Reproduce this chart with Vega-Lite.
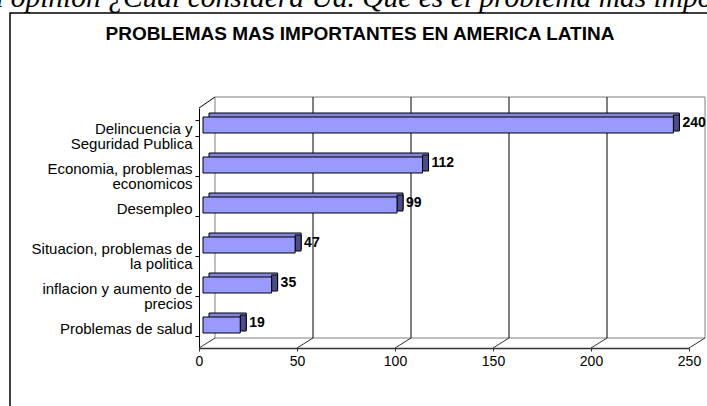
{
  "$schema": "https://vega.github.io/schema/vega-lite/v6.json",
  "width": 700,
  "height": 397,
  "autosize": {"type": "none"},
  "padding": {"left": 10, "top": 13, "right": 0, "bottom": 0},
  "background": "white",
  "config": {
    "view": {"stroke": "black", "strokeWidth": 1.5},
    "font": "Liberation Sans"
  },
  "title": {
    "text": "En su opinion ¿Cual considera Ud. Que es el problema mas importante",
    "subtitle": "PROBLEMAS MAS IMPORTANTES EN  AMERICA LATINA",
    "anchor": "middle",
    "frame": "group",
    "font": "Liberation Serif",
    "fontStyle": "italic",
    "fontWeight": "normal",
    "fontSize": 29.5,
    "color": "black",
    "subtitleFont": "Liberation Sans",
    "subtitleFontWeight": "bold",
    "subtitleFontSize": 19,
    "subtitleColor": "black",
    "subtitlePadding": 12,
    "offset": -39
  },
  "datasets": {
    "problemas": [
      {"problema": "Delincuencia y\nSeguridad Publica", "valor": 240},
      {"problema": "Economia, problemas\neconomicos", "valor": 112},
      {"problema": "Desempleo", "valor": 99},
      {"problema": "Situacion, problemas de\nla politica", "valor": 47},
      {"problema": "inflacion y aumento de\nprecios", "valor": 35},
      {"problema": "Problemas de salud", "valor": 19}
    ],
    "escala": [
      {"v": 0}, {"v": 50}, {"v": 100}, {"v": 150}, {"v": 200}, {"v": 250}
    ]
  },
  "resolve": {"scale": {"y": "independent"}},
  "layer": [
    {
      "data": {"name": "escala"},
      "layer": [
        {
          "transform": [{"filter": "datum.v == 0"}],
          "mark": {"type": "rect", "fill": "transparent", "stroke": "#808080", "strokeWidth": 1, "xOffset": 16, "x2Offset": 16},
          "encoding": {
            "x": {"datum": 0, "type": "quantitative", "title": null, "scale": {"domain": [0, 250], "range": [189, 679], "nice": false, "zero": false}},
            "x2": {"datum": 250},
            "y": {"datum": 0, "type": "quantitative", "title": null, "scale": {"domain": [0, 1], "range": [325, 84], "nice": false}, "axis": null},
            "y2": {"datum": 1}
          }
        },
        {
          "transform": [{"filter": "datum.v > 0 && datum.v < 250"}],
          "mark": {"type": "rule", "color": "black", "strokeWidth": 1, "xOffset": 16},
          "encoding": {
            "x": {"field": "v", "type": "quantitative", "title": null},
            "y": {"datum": 0, "type": "quantitative", "title": null, "axis": null},
            "y2": {"datum": 1}
          }
        },
        {
          "mark": {"type": "rule", "color": "#333333", "strokeWidth": 1, "x2Offset": 16, "yOffset": 10},
          "encoding": {
            "x": {"field": "v", "type": "quantitative", "title": null},
            "x2": {"field": "v"},
            "y": {"datum": 0, "type": "quantitative", "title": null, "axis": null},
            "y2": {"datum": 0}
          }
        },
        {
          "transform": [{"filter": "datum.v == 0"}],
          "mark": {"type": "rule", "color": "black", "strokeWidth": 1, "x2Offset": 16, "yOffset": 11},
          "encoding": {
            "x": {"field": "v", "type": "quantitative", "title": null},
            "x2": {"field": "v"},
            "y": {"datum": 1, "type": "quantitative", "title": null, "axis": null},
            "y2": {"datum": 1}
          }
        }
      ]
    },
    {
      "data": {"name": "problemas"},
      "encoding": {
        "x": {
          "field": "valor",
          "type": "quantitative",
          "title": null,
          "scale": {"domain": [0, 250], "range": [189, 679], "nice": false, "zero": false},
          "axis": {
            "orient": "bottom",
            "offset": -62,
            "values": [0, 50, 100, 150, 200, 250],
            "grid": false,
            "labelFlush": false,
            "domainColor": "#333333",
            "domainWidth": 1.5,
            "tickColor": "#333333",
            "tickSize": 3,
            "labelFont": "Liberation Sans",
            "labelFontSize": 14,
            "labelColor": "black",
            "labelPadding": 3
          }
        },
        "y": {
          "field": "problema",
          "type": "nominal",
          "sort": null,
          "title": null,
          "scale": {"range": [95, 335], "paddingInner": 0.6, "paddingOuter": 0.3},
          "axis": {
            "orient": "left",
            "offset": -189,
            "domainColor": "black",
            "tickColor": "black",
            "tickSize": 4,
            "tickBand": "extent",
            "labelExpr": "split(datum.label, '\\n')",
            "labelFont": "Liberation Sans",
            "labelFontSize": 15,
            "labelColor": "black",
            "labelPadding": 3,
            "labelLimit": 260,
            "labelLineHeight": 15.5,
            "grid": false
          }
        }
      },
      "layer": [
        {
          "mark": {"type": "bar", "fill": "#8585E0", "stroke": "black", "strokeWidth": 1, "xOffset": 10, "x2Offset": 10, "yOffset": -7}
        },
        {
          "mark": {"type": "bar", "fill": "#4D4D86", "stroke": "black", "strokeWidth": 1, "xOffset": 4, "x2Offset": 10, "yOffset": -5},
          "encoding": {"x2": {"field": "valor"}}
        },
        {
          "mark": {"type": "bar", "fill": "#9999FF", "stroke": "black", "strokeWidth": 1, "xOffset": 4, "x2Offset": 4, "yOffset": -3}
        },
        {
          "mark": {"type": "text", "align": "left", "baseline": "middle", "dx": 13, "dy": -5, "font": "Liberation Sans", "fontWeight": "bold", "fontSize": 14, "color": "black"},
          "encoding": {"text": {"field": "valor", "type": "quantitative"}}
        }
      ]
    }
  ]
}
